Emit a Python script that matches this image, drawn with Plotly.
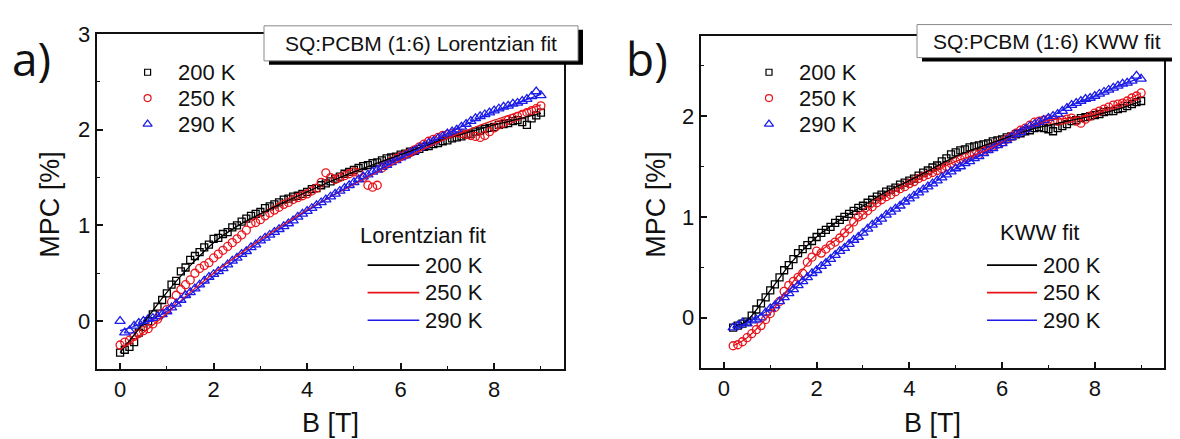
import plotly.graph_objects as go

# page body has an 8 px margin: figure pixel = page pixel - 8
OFF = 8
W, H = 1180, 439
FONT = "Liberation Sans, Arial, sans-serif"
BLACK, RED, BLUE = "#000000", "#e8141c", "#1c1ce8"

# ---------------- data ----------------
B_a = [round(0.1 * i, 1) for i in range(91)]          # 0 .. 9 T
a_200 = [-0.33, -0.30, -0.27, -0.22, -0.12, -0.06, 0.00, 0.07, 0.15, 0.22,
         0.29, 0.38, 0.42, 0.52, 0.56, 0.64, 0.68, 0.72, 0.77, 0.80,
         0.86, 0.87, 0.91, 0.93, 0.98, 1.00, 1.04, 1.07, 1.10, 1.12,
         1.14, 1.18, 1.20, 1.22, 1.24, 1.27, 1.28, 1.30, 1.31, 1.33,
         1.35, 1.38, 1.39, 1.42, 1.44, 1.46, 1.49, 1.51, 1.54, 1.56,
         1.58, 1.60, 1.62, 1.63, 1.65, 1.66, 1.68, 1.70, 1.71, 1.72,
         1.74, 1.75, 1.77, 1.78, 1.80, 1.82, 1.83, 1.85, 1.86, 1.88,
         1.89, 1.91, 1.92, 1.93, 1.95, 1.96, 1.98, 1.99, 2.01, 2.02,
         2.03, 2.05, 2.06, 2.07, 2.09, 2.10, 2.08, 2.05, 2.12, 2.15, 2.18]
a_250 = [-0.25, -0.22, -0.20, -0.16, -0.13, -0.10, -0.08, -0.03, 0.02, 0.08,
         0.12, 0.20, 0.27, 0.33, 0.38, 0.43, 0.50, 0.55, 0.58, 0.61,
         0.66, 0.70, 0.74, 0.78, 0.82, 0.86, 0.90, 0.95, 1.02, 1.03,
         1.06, 1.10, 1.13, 1.16, 1.19, 1.22, 1.24, 1.27, 1.29, 1.31,
         1.33, 1.36, 1.39, 1.45, 1.55, 1.50, 1.48, 1.50, 1.52, 1.54,
         1.56, 1.55, 1.50, 1.42, 1.40, 1.42, 1.60, 1.64, 1.67, 1.70,
         1.72, 1.74, 1.76, 1.79, 1.82, 1.85, 1.88, 1.90, 1.92, 1.94,
         1.95, 1.96, 1.97, 1.96, 1.95, 1.94, 1.93, 1.92, 1.94, 1.98,
         2.02, 2.05, 2.07, 2.10, 2.12, 2.14, 2.16, 2.18, 2.20, 2.22, 2.25]
a_290 = [0.00, -0.12, -0.10, -0.05, -0.02, 0.00, 0.02, 0.03, 0.05, 0.07,
         0.10, 0.14, 0.18, 0.22, 0.27, 0.30, 0.34, 0.38, 0.42, 0.46,
         0.49, 0.52, 0.55, 0.59, 0.63, 0.66, 0.70, 0.73, 0.77, 0.80,
         0.84, 0.87, 0.90, 0.93, 0.96, 0.99, 1.02, 1.05, 1.09, 1.12,
         1.15, 1.18, 1.21, 1.24, 1.27, 1.30, 1.33, 1.36, 1.39, 1.42,
         1.45, 1.48, 1.51, 1.53, 1.56, 1.58, 1.61, 1.63, 1.66, 1.68,
         1.71, 1.73, 1.76, 1.78, 1.81, 1.83, 1.86, 1.88, 1.91, 1.93,
         1.96, 1.98, 2.00, 2.03, 2.06, 2.09, 2.12, 2.14, 2.16, 2.18,
         2.20, 2.22, 2.24, 2.25, 2.27, 2.28, 2.30, 2.32, 2.35, 2.40, 2.36]

Bfit_a = [0, 0.5, 1, 1.5, 2, 2.5, 3, 3.5, 4, 4.5, 5, 5.5, 6, 6.5, 7, 7.5, 8, 8.5, 9]
fit_a_200 = [-0.33, -0.02, 0.30, 0.58, 0.82, 0.99, 1.12, 1.24, 1.35, 1.46,
             1.56, 1.65, 1.74, 1.83, 1.91, 1.98, 2.05, 2.11, 2.17]
fit_a_250 = [-0.30, -0.12, 0.08, 0.30, 0.50, 0.68, 0.85, 1.01, 1.16, 1.30,
             1.43, 1.56, 1.68, 1.80, 1.91, 2.01, 2.10, 2.18, 2.26]
fit_a_290 = [-0.10, -0.02, 0.10, 0.28, 0.47, 0.65, 0.83, 0.99, 1.15, 1.30,
             1.44, 1.57, 1.70, 1.83, 1.96, 2.08, 2.19, 2.28, 2.37]

B_b = [round(0.2 + 0.1 * i, 1) for i in range(89)]    # 0.2 .. 9 T
b_200 = [-0.10, -0.08, -0.06, -0.04, 0.02, 0.08, 0.14, 0.20, 0.27, 0.33,
         0.40, 0.47, 0.52, 0.58, 0.64, 0.68, 0.72, 0.76, 0.80, 0.84,
         0.87, 0.90, 0.94, 0.97, 1.00, 1.03, 1.06, 1.09, 1.11, 1.14,
         1.17, 1.20, 1.22, 1.25, 1.27, 1.29, 1.32, 1.34, 1.36, 1.38,
         1.41, 1.44, 1.46, 1.49, 1.51, 1.55, 1.58, 1.62, 1.64, 1.66,
         1.67, 1.69, 1.70, 1.71, 1.72, 1.73, 1.75, 1.76, 1.77, 1.79,
         1.80, 1.82, 1.83, 1.85, 1.86, 1.88, 1.89, 1.88, 1.87, 1.85,
         1.88, 1.90, 1.92, 1.95, 1.96, 1.98, 1.99, 2.00, 2.01, 2.02,
         2.04, 2.05, 2.05, 2.07, 2.08, 2.10, 2.12, 2.14, 2.15]
b_250 = [-0.28, -0.27, -0.24, -0.20, -0.16, -0.12, -0.08, -0.02, 0.04, 0.10,
         0.16, 0.26, 0.32, 0.36, 0.40, 0.44, 0.55, 0.60, 0.66, 0.64,
         0.68, 0.72, 0.75, 0.79, 0.84, 0.88, 0.95, 1.00, 1.02, 1.06,
         1.10, 1.14, 1.17, 1.20, 1.22, 1.25, 1.28, 1.30, 1.33, 1.35,
         1.38, 1.40, 1.42, 1.44, 1.46, 1.48, 1.50, 1.53, 1.55, 1.57,
         1.59, 1.61, 1.63, 1.62, 1.65, 1.68, 1.70, 1.72, 1.74, 1.77,
         1.80, 1.83, 1.86, 1.88, 1.91, 1.94, 1.95, 1.96, 1.97, 1.96,
         1.95, 1.96, 1.97, 1.98, 1.95, 1.93, 1.97, 2.00, 2.03, 2.05,
         2.07, 2.09, 2.11, 2.12, 2.13, 2.15, 2.18, 2.20, 2.23]
b_290 = [-0.10, -0.08, -0.05, -0.06, -0.03, -0.02, 0.00, 0.05, 0.09, 0.12,
         0.16, 0.20, 0.24, 0.28, 0.32, 0.36, 0.40, 0.44, 0.47, 0.51,
         0.54, 0.58, 0.62, 0.66, 0.69, 0.73, 0.77, 0.80, 0.84, 0.88,
         0.92, 0.95, 0.98, 1.02, 1.05, 1.08, 1.11, 1.15, 1.18, 1.21,
         1.24, 1.27, 1.30, 1.33, 1.36, 1.39, 1.42, 1.45, 1.48, 1.50,
         1.53, 1.55, 1.58, 1.60, 1.63, 1.66, 1.68, 1.71, 1.73, 1.76,
         1.79, 1.82, 1.84, 1.87, 1.90, 1.92, 1.94, 1.96, 1.98, 2.00,
         2.02, 2.05, 2.08, 2.11, 2.13, 2.15, 2.17, 2.18, 2.20, 2.22,
         2.24, 2.26, 2.28, 2.30, 2.32, 2.33, 2.35, 2.40, 2.37]

Bfit_b = [0.2, 0.5, 1, 1.5, 2, 2.5, 3, 3.5, 4, 4.5, 5, 5.5, 6, 6.5, 7, 7.5, 8, 8.5, 9]
fit_b_200 = [-0.10, -0.03, 0.27, 0.57, 0.80, 0.97, 1.11, 1.25, 1.36, 1.48,
             1.60, 1.69, 1.77, 1.85, 1.91, 1.96, 2.01, 2.07, 2.15]
fit_b_250 = [-0.28, -0.20, 0.04, 0.36, 0.63, 0.80, 1.02, 1.20, 1.33, 1.44,
             1.55, 1.63, 1.74, 1.87, 1.96, 1.98, 2.02, 2.12, 2.23]
fit_b_290 = [-0.10, -0.05, 0.09, 0.28, 0.47, 0.66, 0.84, 1.02, 1.18, 1.33,
             1.48, 1.60, 1.73, 1.87, 1.98, 2.11, 2.20, 2.30, 2.38]

temps = ["200 K", "250 K", "290 K"]
colors = [BLACK, RED, BLUE]
symbols = ["square-open", "circle-open", "triangle-up-open"]
sizes = [7, 8, 9]


def dom_x(p0, p1):
    return [(p0 - OFF) / W, (p1 - OFF) / W]


def dom_y(top, bottom):
    return [1 - (bottom - OFF) / H, 1 - (top - OFF) / H]


fig = go.Figure()

panels = [
    ("x", "y", B_a, [a_200, a_250, a_290], Bfit_a, [fit_a_200, fit_a_250, fit_a_290]),
    ("x2", "y2", B_b, [b_200, b_250, b_290], Bfit_b, [fit_b_200, fit_b_250, fit_b_290]),
]
for xa, ya, bx, series, bfit, fits in panels:
    for t, c, s, sz, vals in zip(temps, colors, symbols, sizes, series):
        fig.add_trace(go.Scatter(x=bx, y=vals, mode="markers", xaxis=xa, yaxis=ya,
                                 name=t, showlegend=False,
                                 marker=dict(symbol=s, size=sz, color=c,
                                             line=dict(width=1.3, color=c))))
    for t, c, vals in zip(temps, colors, fits):
        fig.add_trace(go.Scatter(x=bfit, y=vals, mode="lines", xaxis=xa, yaxis=ya,
                                 name=t + " fit", showlegend=False, line_shape="spline",
                                 line=dict(color=c, width=1.3)))

# ---------------- hand-made legends on a page-pixel overlay axis ----------------
def legend_markers(xm, xt, ys):
    for t, c, s, sz, yy in zip(temps, colors, symbols, sizes, ys):
        fig.add_trace(go.Scatter(x=[xm], y=[yy], mode="markers", xaxis="x3", yaxis="y3",
                                 showlegend=False, hoverinfo="skip",
                                 marker=dict(symbol=s, size=sz - 1, color=c,
                                             line=dict(width=1.2, color=c))))
        fig.add_annotation(x=xt, y=yy, xref="x3", yref="y3", text=t, showarrow=False,
                           xanchor="left", yanchor="middle",
                           font=dict(family=FONT, size=22, color="#111"))


def legend_lines(x0, x1, xt, ys, title, xtitle, ytitle):
    fig.add_annotation(x=xtitle, y=ytitle, xref="x3", yref="y3", text=title, showarrow=False,
                       xanchor="left", yanchor="middle",
                       font=dict(family=FONT, size=22, color="#111"))
    for t, c, yy in zip(temps, colors, ys):
        fig.add_trace(go.Scatter(x=[x0, x1], y=[yy, yy], mode="lines", xaxis="x3", yaxis="y3",
                                 showlegend=False, hoverinfo="skip",
                                 line=dict(color=c, width=1.6)))
        fig.add_annotation(x=xt, y=yy, xref="x3", yref="y3", text=t, showarrow=False,
                           xanchor="left", yanchor="middle",
                           font=dict(family=FONT, size=22, color="#111"))


legend_markers(147.6, 176, [61.7, 88.3, 115])
legend_lines(367.6, 419.3, 423, [260, 288.3, 316.7], "Lorentzian fit", 358, 230)
legend_markers(769, 797, [61.7, 88.3, 115])
legend_lines(987, 1037, 1041, [260, 288.3, 316.7], "KWW fit", 998, 226)


def title_box(x0, x1, y0, y1, text):
    fig.add_shape(type="rect", xref="x3", yref="y3", x0=x0 + 5, x1=x1 + 5, y0=y0 + 4, y1=y1 + 4,
                  fillcolor="black", line=dict(width=0), layer="above")
    fig.add_shape(type="rect", xref="x3", yref="y3", x0=x0, x1=x1, y0=y0, y1=y1,
                  fillcolor="white", line=dict(color="#8a8a8a", width=1), layer="above")
    fig.add_annotation(x=(x0 + x1) / 2, y=(y0 + y1) / 2, xref="x3", yref="y3", text=text,
                       showarrow=False, xanchor="center", yanchor="middle",
                       font=dict(family=FONT, size=21, color="#111"))


title_box(264, 578, 14, 50, "SQ:PCBM (1:6) Lorentzian fit")
title_box(917, 1177, 12.7, 46.7, "SQ:PCBM (1:6) KWW fit")

for x, t in [(31, "a)"), (647, "b)")]:
    fig.add_annotation(x=x, y=47, xref="x3", yref="y3", text=t, showarrow=False,
                       xanchor="center", yanchor="middle",
                       font=dict(family="Open Sans, sans-serif", size=46, color="#111"))
for x in [50, 656]:
    fig.add_annotation(x=x, y=198, xref="x3", yref="y3", text="MPC [%]", showarrow=False,
                       textangle=-90, xanchor="center", yanchor="middle",
                       font=dict(family=FONT, size=27, color="#111"))
for x in [330.5, 932]:
    fig.add_annotation(x=x, y=422, xref="x3", yref="y3", text="B [T]", showarrow=False,
                       xanchor="center", yanchor="middle",
                       font=dict(family=FONT, size=27, color="#111"))

common = dict(showgrid=False, zeroline=False, showline=True, linewidth=2, linecolor="#111",
              mirror=True, ticks="inside", ticklen=6, tickwidth=1.6, tickcolor="#111",
              tickfont=dict(family=FONT, size=22, color="#111"))
xminor = dict(tickvals=[1, 3, 5, 7, 9], ticks="inside", ticklen=3, tickwidth=1.4, tickcolor="#111")
yminor = dict(tickvals=[0.5, 1.5, 2.5], ticks="inside", ticklen=3, tickwidth=1.4, tickcolor="#111")

fig.update_layout(
    width=W, height=H, margin=dict(l=0, r=0, t=0, b=0),
    paper_bgcolor="white", plot_bgcolor="rgba(0,0,0,0)", showlegend=False,
    xaxis=dict(domain=dom_x(96.7, 564.3), range=[-0.5, 9.5], anchor="y",
               tickvals=[0, 2, 4, 6, 8], minor=xminor, **common),
    yaxis=dict(domain=dom_y(22.5, 366.7), range=[-0.5, 3], anchor="x",
               tickvals=[0, 1, 2, 3], minor=yminor, **common),
    xaxis2=dict(domain=dom_x(700.7, 1164.3), range=[-0.5, 9.5], anchor="y2",
                tickvals=[0, 2, 4, 6, 8], minor=xminor, **common),
    yaxis2=dict(domain=dom_y(24, 365.7), range=[-0.5, 2.8], anchor="x2",
                tickvals=[0, 1, 2], minor=yminor, **common),
    xaxis3=dict(domain=[0, 1], range=[OFF, W + OFF], visible=False, anchor="y3", fixedrange=True),
    yaxis3=dict(domain=[0, 1], range=[H + OFF, OFF], visible=False, anchor="x3", fixedrange=True),
)

fig.write_html("out.html")
